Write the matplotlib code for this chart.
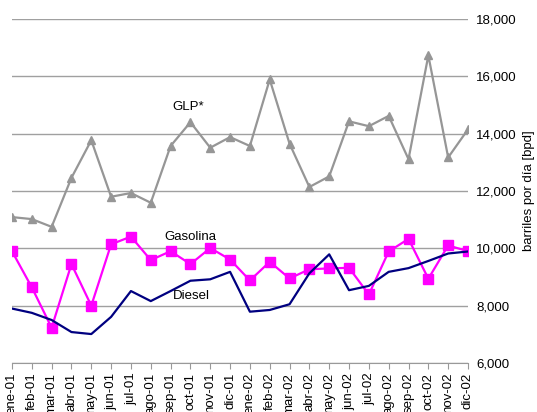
import matplotlib
matplotlib.use("Agg")
import matplotlib.pyplot as plt

months = ["ene-01", "feb-01", "mar-01", "abr-01", "may-01", "jun-01",
          "jul-01", "ago-01", "sep-01", "oct-01", "nov-01", "dic-01",
          "ene-02", "feb-02", "mar-02", "abr-02", "may-02", "jun-02",
          "jul-02", "ago-02", "sep-02", "oct-02", "nov-02", "dic-02"]

glp = [11090, 11020, 10750, 12460, 13770, 11800, 11930, 11590, 13570, 14400,
       13510, 13880, 13570, 15890, 13650, 12140, 12510, 14430, 14260, 14620,
       13110, 16730, 13170, 14150]

gasolina = [9900, 8640, 7230, 9450, 8000, 10140, 10410, 9590, 9900, 9450,
            10010, 9610, 8880, 9530, 8950, 9270, 9300, 9320, 8390, 9890,
            10330, 8940, 10100, 9900]

diesel = [7900, 7750, 7500, 7080, 7010, 7610, 8510, 8160, 8510, 8870,
          8920, 9180, 7790, 7850, 8050, 9130, 9790, 8540, 8690, 9180,
          9310, 9560, 9820, 9890]

yticks = [6000, 8000, 10000, 12000, 14000, 16000, 18000]

plt.rcParams["font.family"] = ["Liberation Sans", "DejaVu Sans"]

fig = plt.figure(figsize=(5.37, 4.12), dpi=100)
ax = fig.add_axes([0.0223, 0.1189, 0.8492, 0.835])

x = list(range(len(months)))
ax.plot(x, glp, color="#969696", lw=1.6, marker="^", ms=6, zorder=3)
ax.plot(x, gasolina, color="#FF00FF", lw=1.6, marker="s", ms=6.5, zorder=4)
ax.plot(x, diesel, color="#000080", lw=1.6, zorder=5)

ax.set_xlim(0, len(months) - 1)
ax.set_ylim(yticks[0], yticks[-1])
ax.set_yticks(yticks)
ax.set_yticklabels([f"{v:,}" for v in yticks], fontsize=9.5)
ax.yaxis.tick_right()
ax.yaxis.set_label_position("right")
ax.tick_params(axis="y", length=0, pad=6)
ax.set_ylabel("barriles por día [bpd]", fontsize=9.5, labelpad=4)

ax.set_xticks(x)
ax.set_xticklabels(months, rotation=90, fontsize=9.5, va="top")
ax.tick_params(axis="x", length=4, color="#999999", pad=3)

ax.grid(axis="y", color="#a0a0a0", lw=1)
ax.set_axisbelow(True)
for side in ("left", "right", "top"):
    ax.spines[side].set_visible(False)
ax.spines["bottom"].set_color("#999999")
ax.spines["bottom"].set_zorder(1)

ax.text(8.87, 14920, "GLP*", fontsize=9.5, ha="center", va="center")
ax.text(8.98, 10390, "Gasolina", fontsize=9.5, ha="center", va="center")
ax.text(9.03, 8330, "Diesel", fontsize=9.5, ha="center", va="center")

fig.savefig("out.png", dpi=100)
